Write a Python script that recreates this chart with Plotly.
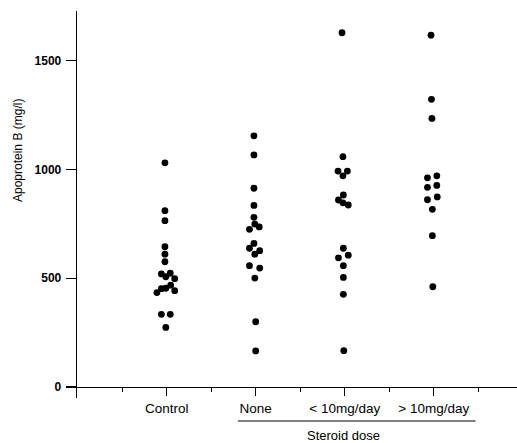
import plotly.graph_objects as go

categories = ["Control", "None", "< 10mg/day", "> 10mg/day"]
y_ticks = [0, 500, 1000, 1500]

control_vals = [1031, 811, 765, 645, 611, 576, 520, 523, 507, 498, 434, 452, 454, 468, 443, 334, 334, 274]
control_dx = [-0.02, -0.02, -0.02, -0.02, -0.02, -0.02, -0.06, 0.04, -0.01, 0.09, -0.11, -0.06, -0.01, 0.045, 0.09, -0.06, 0.04, -0.01]

none_vals = [1155, 1067, 914, 835, 780, 749, 725, 736, 660, 638, 627, 611, 558, 547, 501, 300, 166]
none_dx = [-0.02, -0.02, -0.02, -0.02, -0.02, -0.01, -0.07, 0.04, -0.02, -0.07, 0.045, -0.01, -0.07, 0.045, -0.01, 0.0, 0.0]

low_vals = [1629, 1059, 993, 993, 971, 883, 860, 847, 837, 638, 594, 606, 558, 504, 426, 167]
low_dx = [-0.03, -0.02, -0.075, 0.03, -0.02, -0.015, -0.07, -0.02, 0.04, -0.015, -0.07, 0.04, -0.015, -0.015, -0.015, -0.01]

high_vals = [1618, 1323, 1235, 962, 971, 918, 927, 861, 874, 817, 696, 461]
high_dx = [-0.03, -0.025, -0.02, -0.07, 0.035, -0.07, 0.035, -0.07, 0.04, -0.015, -0.015, -0.01]

groups = [(control_vals, control_dx), (none_vals, none_dx), (low_vals, low_dx), (high_vals, high_dx)]

fig = go.Figure()
for i, (vals, dx) in enumerate(groups):
    fig.add_trace(go.Scatter(
        x=[i + d for d in dx], y=vals, mode="markers",
        marker=dict(color="black", size=6.8, line=dict(width=0)),
        showlegend=False, hoverinfo="skip"))

YMIN, YMAX = -50.6, 1729
FONT = "Liberation Sans, Arial, Helvetica, sans-serif"

fig.update_layout(
    width=517, height=443,
    margin=dict(l=77, r=0, t=11, b=45, autoexpand=False),
    paper_bgcolor="white", plot_bgcolor="white",
    font=dict(family=FONT, color="black"),
    xaxis=dict(
        range=[-1.008, 3.936], automargin=False,
        anchor="free", position=(0 - YMIN) / (YMAX - YMIN),
        tickmode="array", tickvals=list(range(len(categories))), ticktext=categories,
        ticks="outside", ticklen=8, tickwidth=1.2, tickcolor="black",
        showline=True, linecolor="black", linewidth=1.3,
        showgrid=False, zeroline=False,
        tickfont=dict(size=13.5, family=FONT, color="black"),
        ticklabelstandoff=1,
        minor=dict(tickmode="array", tickvals=[-0.5, 0.5, 1.5, 2.5, 3.5],
                   ticks="outside", ticklen=4, tickwidth=1.2, tickcolor="black"),
    ),
    yaxis=dict(
        range=[YMIN, YMAX], automargin=False,
        tickmode="array", tickvals=y_ticks, ticktext=[str(v) for v in y_ticks],
        ticks="outside", ticklen=10, tickwidth=1.2, tickcolor="black",
        showline=True, linecolor="black", linewidth=1.3,
        showgrid=False, zeroline=False,
        tickfont=dict(size=12, family=FONT, color="black", weight="bold"),
        ticklabelstandoff=2,
    ),
)

# Underline for steroid-dose groups
fig.add_shape(type="line", xref="x", yref="paper",
              x0=0.80, x1=3.47, y0=(398 - 421) / 387, y1=(398 - 421) / 387,
              line=dict(color="black", width=1.2))

fig.add_annotation(text="Steroid dose", xref="x", yref="paper",
                   x=1.99, y=(398 - 435) / 387, showarrow=False,
                   font=dict(size=13, family=FONT, color="black"),
                   xanchor="center", yanchor="middle")

fig.add_annotation(text="Apoprotein B (mg/l)", xref="paper", yref="paper",
                   x=(18 - 77) / 440, y=(398 - 151) / 387, textangle=-90,
                   showarrow=False, xanchor="center", yanchor="middle",
                   font=dict(size=12, family=FONT, color="black"))

fig.write_html("out.html",
               config={"displayModeBar": False, "staticPlot": True},
               post_script="document.body.style.margin='0';document.body.style.overflow='hidden';")
